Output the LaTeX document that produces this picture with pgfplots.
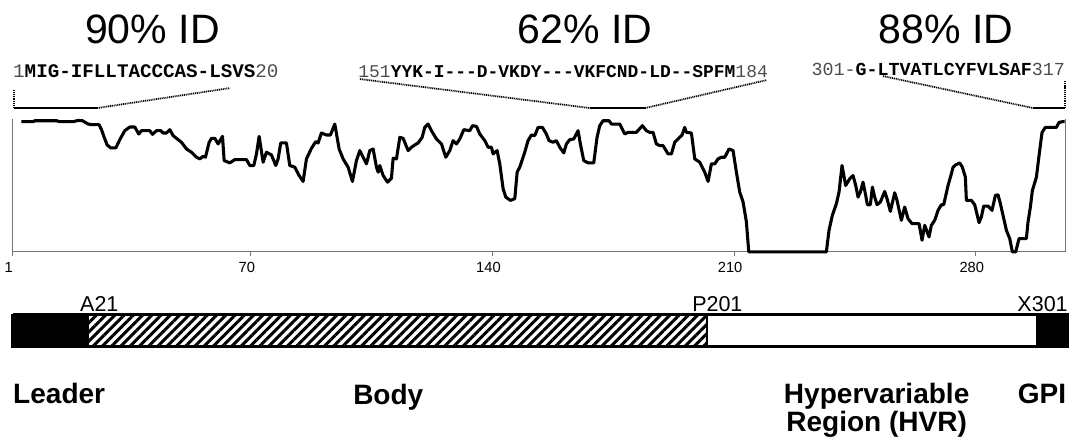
\documentclass[border=0pt]{standalone}
\usepackage{fontspec}
\setmainfont{Liberation Sans}
\newfontfamily\seqfont{Liberation Mono}
\usepackage{pgfplots}
\pgfplotsset{compat=1.18}
\usetikzlibrary{patterns.meta}

% identity profile along the alignment (position, identity score)
\pgfplotstableread{
x y
3.57 392
6.95 392
7.43 395
13.71 395
14.67 392
18.54 392
19.98 396
21.24 395
22.88 385
23.85 383
26.07 383
26.75 368
27.71 340
28.39 322
29.45 313
30.90 313
32.05 338
33.50 365
34.95 376
36.40 376
37.56 355
38.33 365
40.74 365
41.52 354
42.68 365
43.93 365
44.61 358
45.57 358
46.54 368
47.51 350
49.92 330
51.37 310
52.81 300
54.26 285
55.23 280
56.20 288
56.87 285
57.93 330
58.61 342
59.57 342
60.54 325
61.80 348
62.28 275
63.92 268
65.37 278
66.82 278
68.75 278
69.71 260
70.87 260
71.64 295
72.41 348
73.57 270
74.53 300
75.98 292
77.23 260
77.91 280
78.68 328
80.33 328
81.29 260
82.74 255
83.99 230
85.15 212
86.12 280
87.57 312
88.82 332
89.50 328
90.46 358
91.91 352
93.07 352
94.33 385
95.58 310
96.74 280
98.19 255
99.44 212
100.60 275
101.57 305
102.53 285
103.50 265
104.47 305
105.43 310
106.40 255
106.90 240
107.36 260
108.33 230
109.58 210
110.74 222
111.23 282
112.19 280
113.16 345
114.12 342
115.57 305
116.54 315
117.50 322
118.47 328
119.63 345
120.40 375
121.36 385
122.33 365
123.78 340
125.23 325
126.48 285
127.64 305
128.61 335
129.57 325
130.54 340
131.70 368
133.43 365
134.21 380
135.37 378
136.33 355
137.78 335
138.75 315
139.71 315
140.19 295
141.35 305
142.12 265
143.09 190
143.86 165
145.21 155
146.47 160
147.15 240
147.90 255
149.35 300
150.31 335
151.28 352
152.25 350
153.21 375
154.47 375
155.62 355
156.40 335
157.56 330
158.52 335
159.49 315
160.65 298
161.42 325
162.38 338
163.54 340
164.80 365
165.47 325
166.44 275
167.70 268
169.34 268
170.30 345
171.07 380
172.04 395
173.78 395
174.45 385
176.87 385
178.32 355
179.28 360
181.70 360
183.43 380
184.59 365
185.56 360
186.52 360
187.49 325
188.46 320
189.42 320
190.87 295
191.84 295
192.80 330
193.77 340
194.93 352
195.70 375
196.18 360
197.63 358
198.60 280
200.04 270
201.49 240
202.46 212
203.42 265
204.39 265
205.35 280
206.32 285
207.29 285
208.54 310
209.70 305
210.66 240
211.63 180
212.60 150
213.56 90
214.24 0
236.72 0
237.49 65
238.46 110
239.62 145
240.39 180
241.26 260
242.32 200
243.48 220
244.45 230
245.22 200
245.90 165
246.57 180
247.34 210
248.12 170
248.60 142
249.47 142
250.05 195
250.72 165
251.40 142
252.36 150
253.62 182
254.30 160
255.26 122
256.52 178
257.19 155
258.45 95
259.41 135
260.38 100
261.54 85
263.57 85
264.44 35
265.21 80
266.46 45
267.14 80
268.10 95
269.07 125
270.04 142
270.71 142
271.97 200
272.93 235
273.42 255
274.19 262
275.35 268
276.12 255
276.99 225
277.28 155
278.73 155
279.69 142
280.95 88
281.62 105
282.30 138
283.55 138
284.71 125
285.68 170
286.45 172
287.13 145
287.90 110
288.87 65
289.83 40
290.60 0
291.57 0
292.54 40
294.66 40
295.14 90
295.82 135
296.40 185
297.56 225
298.33 290
299.20 360
300.16 375
303.35 375
304.13 390
305.09 392
305.77 392
}\identity

\begin{document}
\begin{tikzpicture}
\begin{axis}[
    name=main,
    scale only axis,
    width=788.5pt, height=99.5pt,
    xmin=1, xmax=305.86, ymin=0, ymax=400,
    clip=false,
    axis x line*=bottom,
    axis y line*=box,
    axis line style={black!55, line width=0.6pt},
    xtick={1,70,140,210,280},
    ytick=\empty,
    tick align=outside,
    major tick length=3pt,
    tick style={black!55, line width=0.6pt},
    /pgf/number format/assume math mode=true,
    xticklabel style={font=\fontsize{11}{11}\selectfont, xshift=-3pt, yshift=-1pt},
]
% profile
\addplot[black, line width=2.3pt, line join=round] table[x=x, y=y] {\identity};

% domain bar
\addplot[fill=black, draw=none] coordinates {(1,-187.8) (22.84,-187.8) (22.84,-284.2) (1,-284.2) (1,-187.8)};
\addplot[draw=none, pattern={Lines[angle=45, distance=4.9pt, line width=2.3pt]}] coordinates {(22.84,-187.8) (202.2,-187.8) (202.2,-284.2) (22.84,-284.2) (22.84,-187.8)};
\addplot[fill=black, draw=none] coordinates {(297.5,-187.8) (306.7,-187.8) (306.7,-284.2) (297.5,-284.2) (297.5,-187.8)};
\addplot[black, line width=2pt] coordinates {(1,-187.8) (306.7,-187.8) (306.7,-284.2) (1,-284.2) (1,-187.8)};
\addplot[black, line width=1.2pt] coordinates {(202.2,-187.8) (202.2,-284.2)};
\addplot[black, line width=1.2pt] coordinates {(22.84,-187.8) (22.84,-284.2)};

% brackets to the aligned segments
\addplot[black, line width=1.3pt, dash pattern=on 0.8pt off 0.6pt] coordinates {(1.4,487.4) (1.4,433.1)};
\addplot[black, line width=1.5pt] coordinates {(1.4,433.1) (25.45,433.1)};
\addplot[black, line width=1.3pt, dash pattern=on 0.8pt off 0.6pt] coordinates {(25.45,433.1) (63.98,493.4)};

\addplot[black, line width=1.3pt, dash pattern=on 0.8pt off 0.6pt] coordinates {(101.6,520.5) (168.3,433.1)};
\addplot[black, line width=1.5pt] coordinates {(168.3,433.1) (184.2,433.1)};
\addplot[black, line width=1.3pt, dash pattern=on 0.8pt off 0.6pt] coordinates {(184.2,433.1) (219.5,517.5)};

\addplot[black, line width=1.3pt, dash pattern=on 0.8pt off 0.6pt] coordinates {(253.1,529.5) (296.6,433.1)};
\addplot[black, line width=1.5pt] coordinates {(296.6,433.1) (305.9,433.1)};
\addplot[black, line width=1.3pt, dash pattern=on 0.8pt off 0.6pt] coordinates {(305.9,433.1) (305.9,517.5)};

% titles
\node[anchor=base, inner sep=0pt, font=\fontsize{30.75}{30.75}\selectfont] at (axis cs:41.5,628) {90\% ID};
\node[anchor=base, inner sep=0pt, font=\fontsize{30.75}{30.75}\selectfont] at (axis cs:166.8,628) {62\% ID};
\node[anchor=base, inner sep=0pt, font=\fontsize{30.75}{30.75}\selectfont] at (axis cs:271.4,628) {88\% ID};

\node[anchor=base west, inner sep=0pt, font=\seqfont\fontsize{14.4}{14.4}\selectfont] at (axis cs:1.1,526) {\color{black!70}1\color{black}\textbf{MIG-IFLLTACCCAS-LSVS}\color{black!70}20};
\node[anchor=base west, inner sep=0pt, font=\seqfont\fontsize{13.45}{13.45}\selectfont] at (axis cs:101.1,526) {\color{black!70}151\color{black}\textbf{YYK-I---D-VKDY---VKFCND-LD--SPFM}\color{black!70}184};
\node[anchor=base east, inner sep=0pt, font=\seqfont\fontsize{13.75}{13.75}\selectfont] at (axis cs:305.9,531) {\color{black!70}301-\color{black}\textbf{G-LTVATLCYFVLSAF}\color{black!70}317};

% bar labels
\node[anchor=base west, inner sep=0pt, font=\fontsize{16.1}{16.1}\selectfont] at (axis cs:20.5,-180) {A21};
\node[anchor=base west, inner sep=0pt, font=\fontsize{16.1}{16.1}\selectfont] at (axis cs:197.8,-180) {P201};
\node[anchor=base east, inner sep=0pt, font=\fontsize{16.1}{16.1}\selectfont] at (axis cs:306.7,-180) {X301};

\node[anchor=base west, inner sep=0pt, font=\fontsize{21}{21}\selectfont\bfseries] at (axis cs:1.1,-456) {Leader};
\node[anchor=base west, inner sep=0pt, font=\fontsize{21}{21}\selectfont\bfseries] at (axis cs:99.6,-460) {Body};
\node[anchor=base, inner sep=0pt, font=\fontsize{21}{21}\selectfont\bfseries] at (axis cs:251.3,-456) {Hypervariable};
\node[anchor=base, inner sep=0pt, font=\fontsize{21}{21}\selectfont\bfseries] at (axis cs:251.3,-540) {Region (HVR)};
\node[anchor=base west, inner sep=0pt, font=\fontsize{21}{21}\selectfont\bfseries] at (axis cs:292.1,-456) {GPI};

\coordinate (bbA) at (axis cs:-2.65,-564.5);
\coordinate (bbB) at (axis cs:307.3,758.6);
\end{axis}
\pgfresetboundingbox
\path[use as bounding box] (bbA) rectangle (bbB);
\end{tikzpicture}
\end{document}
